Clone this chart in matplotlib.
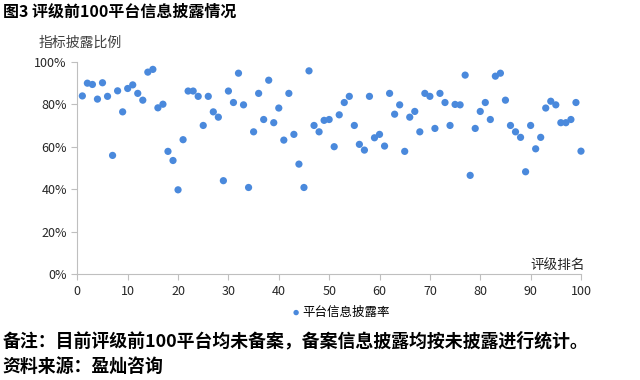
import matplotlib
matplotlib.use("Agg")
import matplotlib.pyplot as plt
from matplotlib.ticker import PercentFormatter

plt.rcParams['font.family'] = ['Noto Sans CJK SC', 'DejaVu Sans']

ranks = list(range(1, 101))
disclosure = [
    84, 90, 89.4, 82.5, 90.2, 83.8, 56, 86.4, 76.5, 87.5,
    89.2, 85.2, 82, 95.2, 96.5, 78.4, 80.1, 57.9, 53.6, 39.8,
    63.4, 86.3, 86.3, 83.8, 70.1, 83.8, 76.5, 74, 44.1, 86.3,
    80.9, 94.7, 79.8, 40.9, 67.1, 85.2, 72.9, 91.4, 71.4, 78.3,
    63.2, 85.2, 65.9, 51.9, 40.9, 95.8, 70.1, 67.1, 72.5, 72.9,
    60.1, 75.1, 80.9, 83.8, 70.1, 61.2, 58.5, 83.8, 64.3, 65.9,
    60.4, 85.2, 75.4, 79.8, 57.9, 74, 76.7, 67.1, 85.2, 83.8,
    68.7, 85.2, 80.9, 70.1, 80, 79.8, 93.8, 46.6, 68.7, 76.7,
    80.9, 72.9, 93.3, 94.7, 82, 70.1, 67.1, 64.5, 48.3, 70.1,
    59.1, 64.5, 78.3, 81.5, 79.8, 71.4, 71.4, 72.9, 80.9, 58,
]
series_name = '平台信息披露率'
x_ticks = [0, 10, 20, 30, 40, 50, 60, 70, 80, 90, 100]
y_ticks = [0, 20, 40, 60, 80, 100]

fig = plt.figure(figsize=(6.4, 3.8), dpi=100)
ax = fig.add_axes([0.1208, 0.278, 0.787, 0.559])

sc = ax.scatter(ranks, disclosure, s=27, color='#4A89DC', edgecolors='none',
                label=series_name, zorder=3, clip_on=False)

ax.set_xlim(0, 100)
ax.set_ylim(0, 100)
ax.set_xticks(x_ticks)
ax.set_yticks(y_ticks)
ax.yaxis.set_major_formatter(PercentFormatter(decimals=0))
ax.tick_params(axis='both', labelsize=9, colors='#BFBFBF', labelcolor='#262626',
               length=4, width=0.8)
for s in ['top', 'right']:
    ax.spines[s].set_visible(False)
for s in ['left', 'bottom']:
    ax.spines[s].set_color('#BFBFBF')
    ax.spines[s].set_linewidth(0.8)

fig.text(0.005, 0.968, '图3 评级前100平台信息披露情况', fontsize=11.5,
         fontweight='bold', va='center', ha='left', color='#000000')
fig.text(0.060, 0.887, '指标披露比例', fontsize=10, va='center', ha='left',
         color='#404040')
fig.text(0.914, 0.302, '评级排名', fontsize=9.8, va='center', ha='right',
         color='#262626')

fig.legend(handles=[sc], labels=[series_name], loc='center',
           bbox_to_anchor=(0.533, 0.178), frameon=False, fontsize=9,
           handletextpad=0.2, handlelength=0.6, markerscale=0.75, borderpad=0)

fig.text(0.004, 0.103, '备注：目前评级前100平台均未备案，备案信息披露均按未披露进行统计。',
         fontsize=12.9, fontweight='bold', va='center', ha='left', color='#000000')
fig.text(0.004, 0.034, '资料来源：盈灿咨询', fontsize=12.9, fontweight='bold',
         va='center', ha='left', color='#000000')

fig.savefig('out.png', dpi=100)
